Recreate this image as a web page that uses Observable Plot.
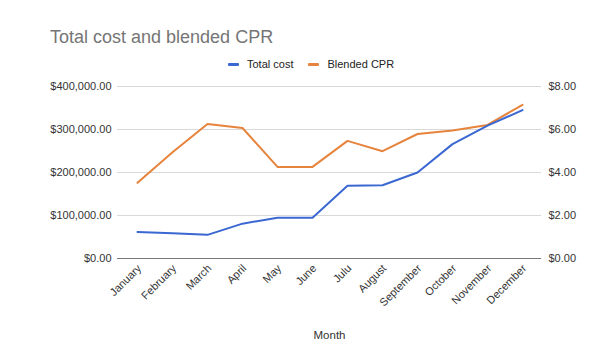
<!DOCTYPE html>
<html>
<head>
<meta charset="utf-8">
<script src="https://cdn.jsdelivr.net/npm/d3@7"></script>
<script src="https://cdn.jsdelivr.net/npm/@observablehq/plot@0.6"></script>
<style>
  html, body { margin: 0; padding: 0; background: #fff; }
  #wrap { position: relative; width: 598px; height: 356px; font-family: "Liberation Sans", Arial, sans-serif; }
  #title { position: absolute; left: 50px; top: 27px; font-size: 18px; line-height: 20px; color: #757575; white-space: nowrap; }
  #legend { position: absolute; left: 228px; top: 57px; display: flex; align-items: center; font-size: 11px; line-height: 14px; color: #222; white-space: nowrap; }
  .item { display: flex; align-items: center; margin-right: 15px; }
  .sw { width: 11px; height: 3px; border-radius: 1px; margin-right: 8px; }
  #chart { position: absolute; left: 0; top: 0; }
</style>
</head>
<body>
<div id="wrap">
  <div id="chart"></div>
  <div id="title">Total cost and blended CPR</div>
  <div id="legend"></div>
</div>
<script>
const months = ["January","February","March","April","May","June","Julu","August","September","October","November","December"];
const totalCost = [61500, 59000, 55000, 81000, 95000, 95000, 169000, 170500, 200000, 266000, 309000, 345000];
const blendedCPR = [3.52, 4.94, 6.26, 6.07, 4.26, 4.26, 5.47, 4.99, 5.79, 5.95, 6.21, 7.15];
const seriesNames = ["Total cost", "Blended CPR"];
const seriesColors = ["#3a67d1", "#e6843d"];
const leftTicks = [0, 100000, 200000, 300000, 400000];
const leftTickLabels = ["$0.00", "$100,000.00", "$200,000.00", "$300,000.00", "$400,000.00"];
const rightTickLabels = ["$0.00", "$2.00", "$4.00", "$6.00", "$8.00"];
const xTitle = "Month";
const cprMax = 8;
const costMax = 400000;

const data = months.map((m, i) => ({month: m, cost: totalCost[i], cpr: blendedCPR[i]}));
const ratio = costMax / cprMax;

const chart = Plot.plot({
  width: 598,
  height: 356,
  marginTop: 86,
  marginBottom: 98,
  marginLeft: 117,
  marginRight: 57,
  style: {fontFamily: "Liberation Sans, Arial, sans-serif", fontSize: "11px", color: "#333", background: "white"},
  x: {type: "point", domain: months, padding: 0.5},
  y: {domain: [0, costMax]},
  marks: [
    Plot.gridY(leftTicks.slice(1), {stroke: "#d9d9d9", strokeOpacity: 1, strokeWidth: 1}),
    Plot.ruleY([0], {stroke: "#777", strokeWidth: 1.2}),
    Plot.axisY(leftTicks, {anchor: "left", tickSize: 0, tickPadding: 6, tickFormat: (d, i) => leftTickLabels[i], label: null, fill: "#333"}),
    Plot.axisY(leftTicks, {anchor: "right", tickSize: 0, tickPadding: 7, tickFormat: (d, i) => rightTickLabels[i], label: null, fill: "#333"}),
    Plot.axisX({tickRotate: -45, tickSize: 0, tickPadding: 8, dx: 2, label: null, fill: "#333"}),
    Plot.text([xTitle], {frameAnchor: "bottom", dy: 80, fill: "#333", fontSize: 11.5}),
    Plot.line(data, {x: "month", y: d => d.cpr * ratio, stroke: seriesColors[1], strokeWidth: 2}),
    Plot.line(data, {x: "month", y: "cost", stroke: seriesColors[0], strokeWidth: 2})
  ]
});
document.getElementById("chart").appendChild(chart);

const legend = document.getElementById("legend");
seriesNames.forEach((name, i) => {
  const item = document.createElement("div");
  item.className = "item";
  const sw = document.createElement("span");
  sw.className = "sw";
  sw.style.background = seriesColors[i];
  const label = document.createElement("span");
  label.textContent = name;
  item.appendChild(sw);
  item.appendChild(label);
  legend.appendChild(item);
});
</script>
</body>
</html>
